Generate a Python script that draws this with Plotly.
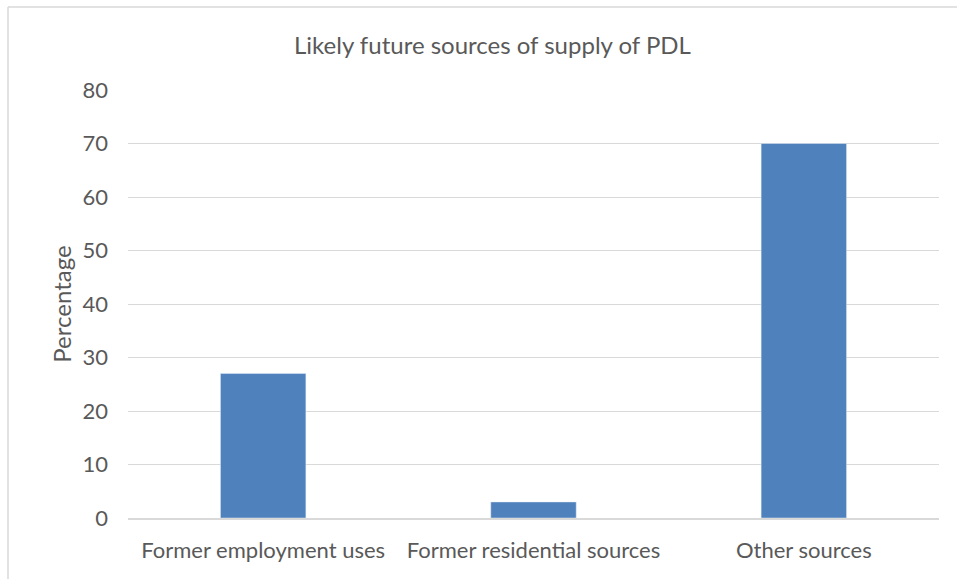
import plotly.graph_objects as go

categories = ["Former employment uses", "Former residential sources", "Other sources"]
values = [27, 3, 70]
y_ticks = [0, 10, 20, 30, 40, 50, 60, 70, 80]

W, H = 957, 579
L, R, T, B = 128, 18, 90, 61
pw, ph = W - L - R, H - T - B

fig = go.Figure(go.Bar(x=categories, y=values, marker_color="#4f81bd", width=0.316))

font = "Lato, 'Open Sans', sans-serif"
fig.update_layout(
    width=W, height=H,
    margin=dict(l=L, r=R, t=T, b=B),
    paper_bgcolor="white", plot_bgcolor="white",
    font=dict(family=font, color="#595959", size=22),
    showlegend=False,
    xaxis=dict(showgrid=False, showline=True, linecolor="#d9d9d9", linewidth=1.5,
               ticks="", ticklabelstandoff=12, tickfont=dict(size=22)),
    yaxis=dict(range=[0, 80], tickvals=y_ticks, showgrid=True, gridcolor="#d9d9d9",
               zeroline=False, showline=False, ticks="", ticklabelstandoff=19,
               tickfont=dict(size=22),
               title=dict(text="Percentage", font=dict(size=24), standoff=4)),
    annotations=[dict(text="Likely future sources of supply of PDL", xref="paper", yref="paper",
                      x=(492 - L) / pw, y=1 + (90 - 45) / ph, showarrow=False,
                      xanchor="center", yanchor="middle", font=dict(size=24, color="#595959"))],
    shapes=[
        dict(type="line", xref="paper", yref="paper", x0=(8 - L) / pw, x1=(8 - L) / pw,
             y0=1 + (T - 7) / ph, y1=-1, line=dict(color="#d9d9d9", width=1.5)),
        dict(type="line", xref="paper", yref="paper", x0=(8 - L) / pw, x1=1.2,
             y0=1 + (T - 7) / ph, y1=1 + (T - 7) / ph, line=dict(color="#d9d9d9", width=1.5)),
    ],
)

fig.write_html("out.html", config={"displayModeBar": False},
               post_script="document.body.style.margin='0';")
